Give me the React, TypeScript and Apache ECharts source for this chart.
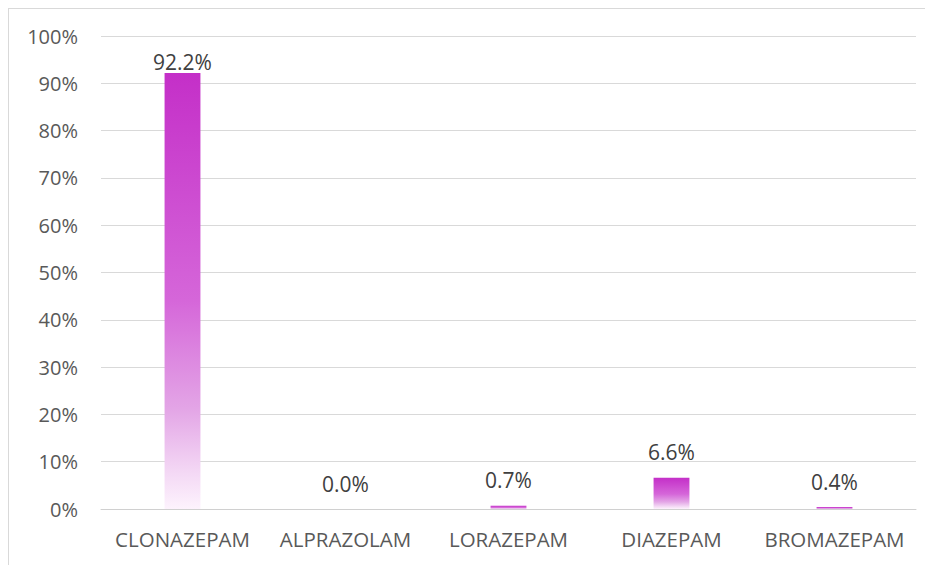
import React, { useEffect, useRef } from "react";
import * as echarts from "echarts";

const categories = ["CLONAZEPAM", "ALPRAZOLAM", "LORAZEPAM", "DIAZEPAM", "BROMAZEPAM"];
const values = [92.2, 0.0, 0.7, 6.6, 0.4];
const labelDistances = [0, 15, 15, 15, 15];

const FONT = "Open Sans";

export default function App() {
  const ref = useRef<HTMLDivElement>(null);
  useEffect(() => {
    if (!ref.current) return;
    const chart = echarts.init(ref.current, undefined, { renderer: "svg" });
    const gradient = new echarts.graphic.LinearGradient(0, 0, 0, 1, [
      { offset: 0, color: "#c42fc8" },
      { offset: 0.52, color: "#d566d9" },
      { offset: 0.77, color: "#e3a5e6" },
      { offset: 0.91, color: "#f3d6f4" },
      { offset: 1, color: "#fdf3fd" },
    ]);
    chart.setOption({
      animation: false,
      grid: { left: 92, right: 17, top: 27, bottom: 56, containLabel: false },
      xAxis: {
        type: "category",
        data: categories,
        axisTick: { show: false },
        axisLine: { lineStyle: { color: "#d0d0d0", width: 1 } },
        axisLabel: {
          color: "#595959",
          fontSize: 20.5,
          fontFamily: FONT,
          margin: 19,
          interval: 0,
        },
      },
      yAxis: {
        type: "value",
        min: 0,
        max: 100,
        interval: 10,
        axisLine: { show: false },
        axisTick: { show: false },
        splitLine: { lineStyle: { color: "#d9d9d9", width: 1 } },
        axisLabel: {
          color: "#595959",
          fontSize: 20,
          fontFamily: FONT,
          margin: 23,
          formatter: "{value}%",
        },
      },
      series: [
        {
          type: "bar",
          barWidth: "22%",
          data: values.map((v, i) => ({
            value: v,
            label: { distance: labelDistances[i] },
          })),
          itemStyle: { color: gradient },
          label: {
            show: true,
            position: "top",
            color: "#404040",
            fontSize: 21,
            fontFamily: FONT,
            formatter: (p: any) => Number(p.value).toFixed(1) + "%",
          },
        },
      ],
    });
    return () => chart.dispose();
  }, []);
  return (
    <div
      ref={ref}
      style={{
        width: 924,
        height: 556,
        borderTop: "1px solid #d9d9d9",
        borderLeft: "1px solid #d9d9d9",
        boxSizing: "content-box",
      }}
    />
  );
}
